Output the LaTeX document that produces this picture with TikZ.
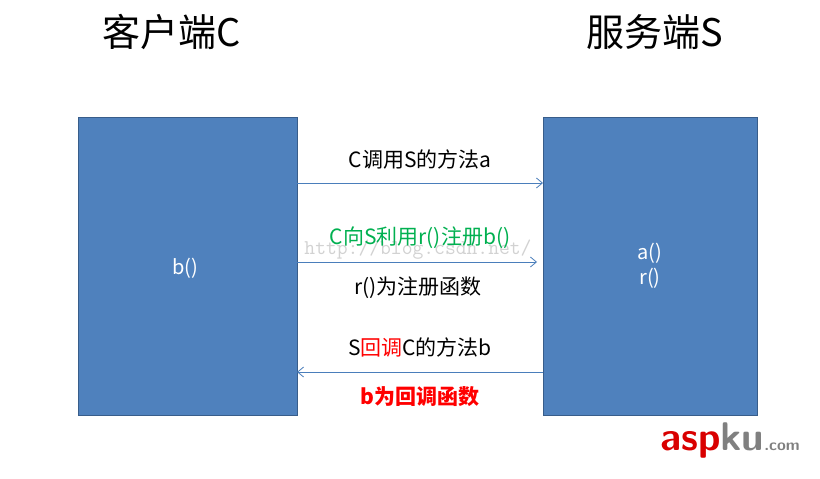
\documentclass[tikz,border=0pt]{standalone}
\usepackage{fontspec}
\newfontfamily\cjk{Noto Sans CJK SC}
\usetikzlibrary{arrows.meta}
\definecolor{boxfill}{HTML}{4F81BD}
\definecolor{boxline}{HTML}{385D8A}
\definecolor{arr}{HTML}{4A7EBB}
\definecolor{grn}{HTML}{00B050}
\tikzset{
  panel/.style={draw=boxline,line width=1pt,fill=boxfill},
  conn/.style={draw=arr,line width=0.8pt,-{Straight Barb[length=6pt,width=10pt]}},
  lbl/.style={font=\cjk\fontsize{21}{24}\selectfont},
  title/.style={font=\cjk\fontsize{38}{42}\selectfont},
  intxt/.style={font=\cjk\fontsize{20}{25}\selectfont,text=white,align=center}
}
\begin{document}
\begin{tikzpicture}[x=1pt,y=-1pt]
\useasboundingbox (0,0) rectangle (820,479);
\fill[white] (0,0) rectangle (820,479);
\node[title] (tc) at (172,32) {客户端C};
\node[title] (ts) at (655,32) {服务端S};
\path[panel] (78,117) rectangle (297,415);
\path[panel] (543,117) rectangle (757,415);
\coordinate (l1) at (297,183); \coordinate (r1) at (543,183);
\coordinate (l2) at (297,262); \coordinate (r2) at (537,262);
\coordinate (l3) at (297,372); \coordinate (r3) at (543,372);
\node[intxt] (b) at (185,268) {b()};
\node[intxt] (ar) at (650,266) {a()\\r()};
\node[text=gray!35,font=\ttfamily\fontsize{21}{22}\selectfont] (wm) at (418,250) {http://blog.csdn.net/};
\draw[conn] (l1) -- (r1);
\draw[conn] (l2) -- (r2);
\draw[conn] (r3) -- (l3);
\node[lbl] (t1) at (420,160) {C调用S的方法a};
\node[lbl,text=grn] (t2) at (420,238) {C向S利用r()注册b()};
\node[lbl] (t3) at (418,288) {r()为注册函数};
\node[lbl] (t4) at (420,347) {S\textcolor{red}{回调}C的方法b};
\node[lbl,text=red,font=\cjk\bfseries\fontsize{21}{24}\selectfont] (t5) at (420,397) {b为回调函数};
\node[font=\sffamily\bfseries\fontsize{40}{40}\selectfont,text=red!85!black] (logo) at (730,440) {asp\textcolor{gray}{ku}\fontsize{16}{16}\selectfont\textcolor{gray}{.com}};
\end{tikzpicture}
\end{document}
